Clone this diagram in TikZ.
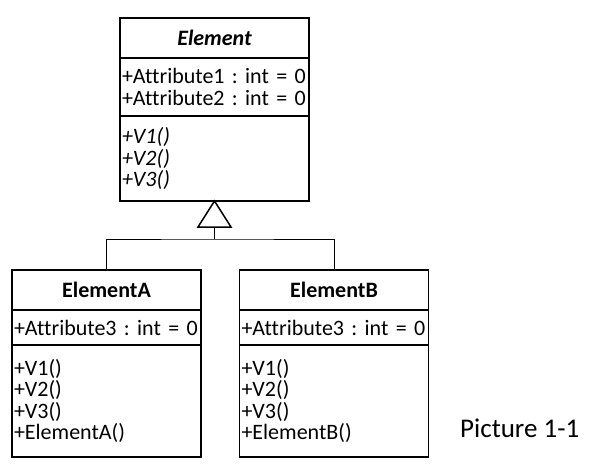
\documentclass[tikz,border=0pt]{standalone}
\usepackage{fontspec}
\setmainfont{Carlito}[Ligatures=NoCommon]
\frenchspacing
\usetikzlibrary{positioning}
\begin{document}
\begin{tikzpicture}[x=1pt,y=1pt,
	part/.style={draw,line width=1.5pt,outer sep=0pt,inner xsep=2pt,inner ysep=0pt,text width=185pt,align=left,font=\fontsize{22pt}{21.5pt}\selectfont},
	classname/.style={part,minimum height=40pt,align=center,font=\fontsize{22pt}{21.5pt}\selectfont\bfseries},
	link/.style={line width=1pt}]
	\useasboundingbox (0,0) rectangle (590,-467);
	% abstract base class
	\node[classname,font=\fontsize{22pt}{21.5pt}\selectfont\bfseries\itshape] (elem) at (214.5,-38) {Element};
	\node[part,minimum height=58pt,below=0pt of elem] (attr) {+Attribute1~:~int~=~0\\+Attribute2~:~int~=~0};
	\node[part,minimum height=85pt,below=0pt of attr,font=\fontsize{22pt}{21.5pt}\selectfont\itshape] (ops) {+V1()\\+V2()\\+V3()};
	% subclasses
	\foreach \n/\x in {A/106.5,B/334}{
		\node[classname] (elem\n) at (\x,-290) {Element\n};
		\node[part,minimum height=35pt,below=0pt of elem\n] (attr\n) {+Attribute3~:~int~=~0};
		\node[part,minimum height=112pt,below=0pt of attr\n] (ops\n) {+V1()\\+V2()\\+V3()\\+Element\n()};
	}
	% generalization
	\coordinate (tip) at (ops.south);
	\draw[line width=1.5pt] (tip) -- ++(-16.5,-26) -- ++(33,0) -- cycle;
	\coordinate (tribase) at ([yshift=-26pt]tip);
	\draw[link] (tribase) -- ++(0,-12) coordinate (joint);
	\draw[link] (elemA.north) |- (joint) -| (elemB.north);
	\node[font=\fontsize{27pt}{30pt}\selectfont,anchor=base west,inner xsep=0pt] (caption) at (460,-437) {Picture 1-1};
\end{tikzpicture}
\end{document}
